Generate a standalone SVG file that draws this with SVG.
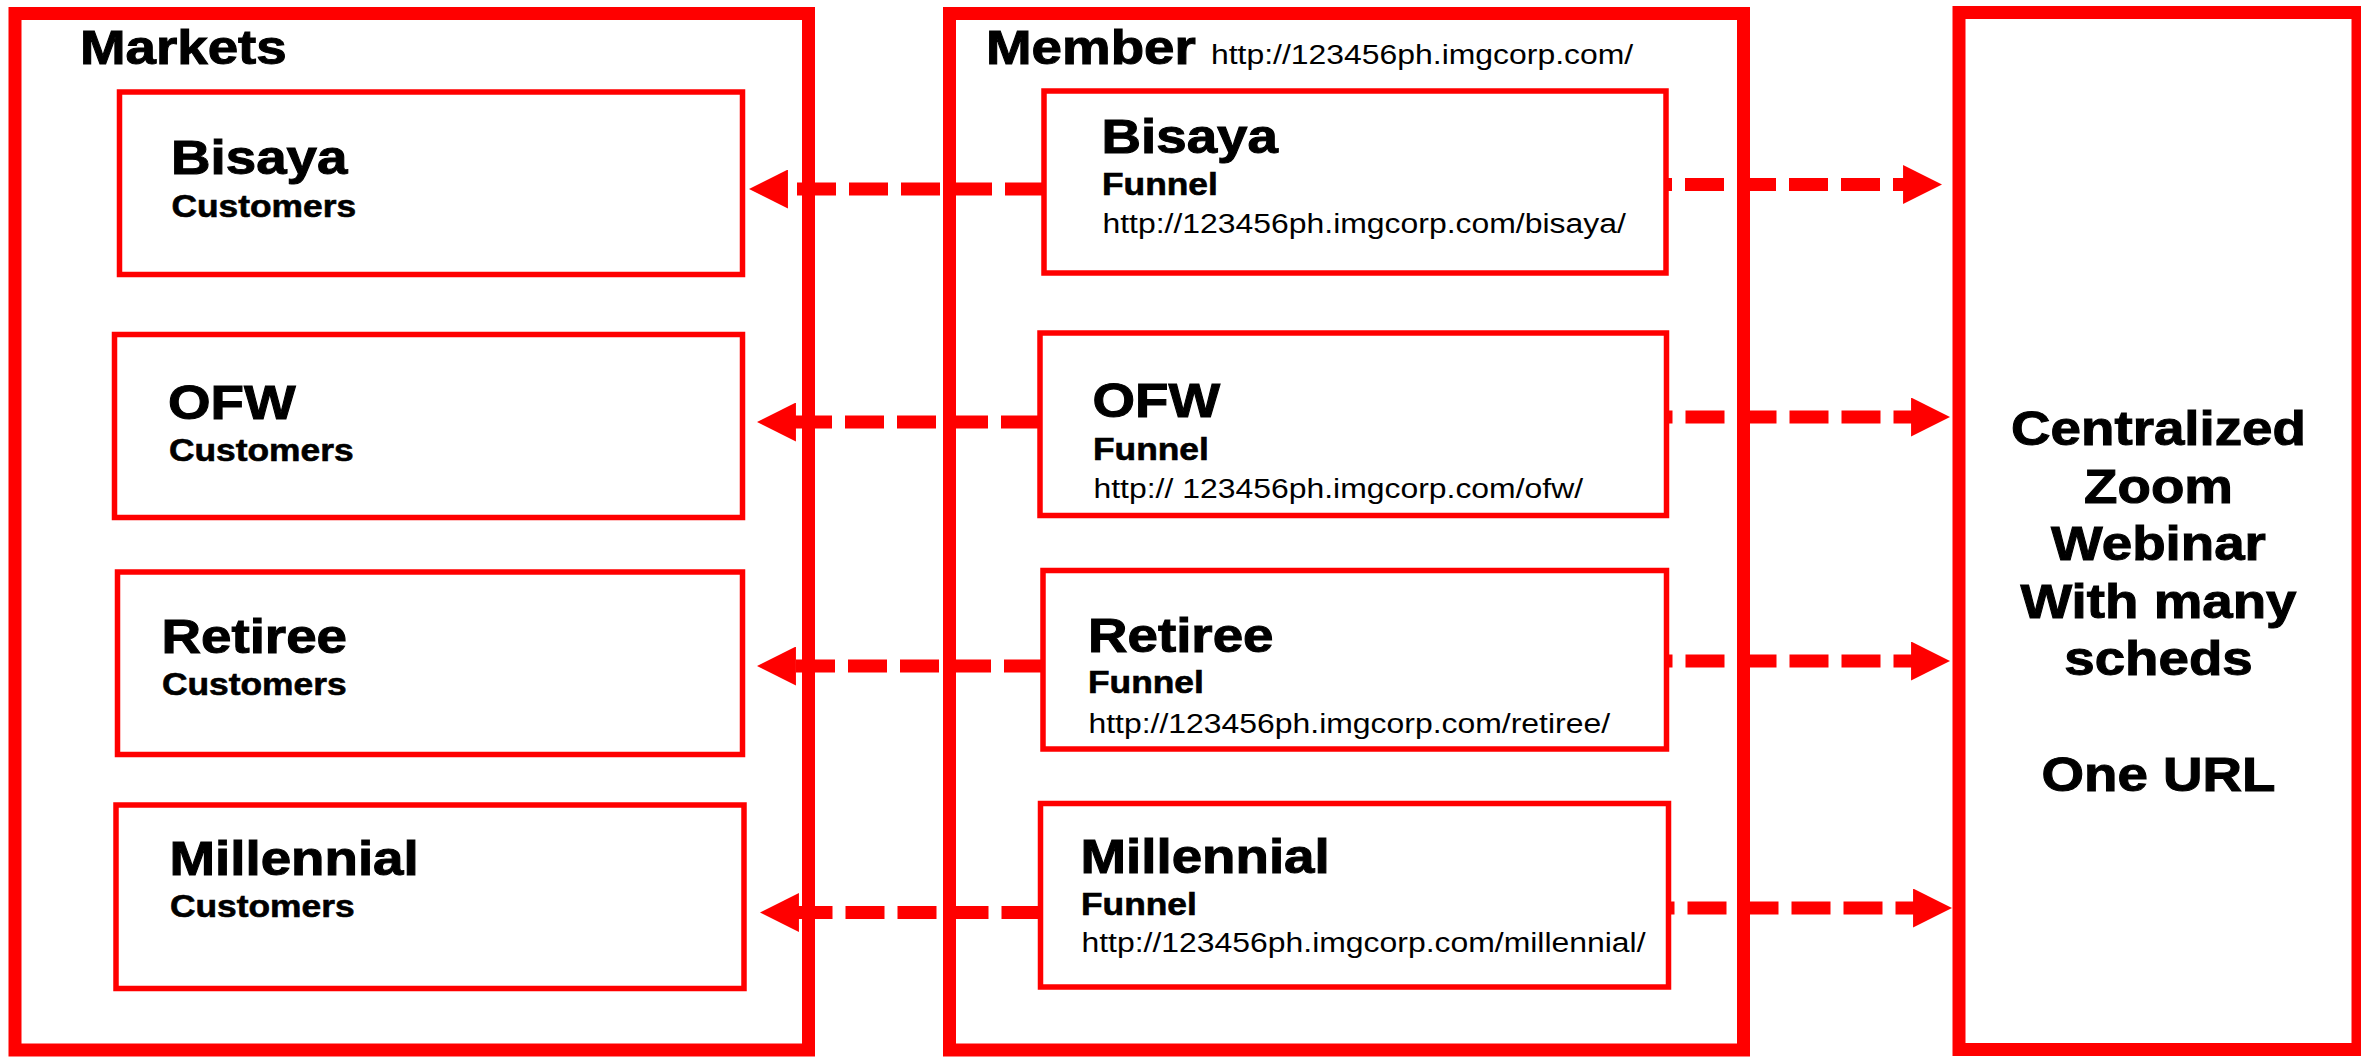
<svg xmlns="http://www.w3.org/2000/svg" width="2361" height="1057" viewBox="0 0 2361 1057">
<style>
  .outer { fill: #ffffff; stroke: #ff0000; stroke-width: 13; }
  .inner { fill: #ffffff; stroke: #ff0000; stroke-width: 5.5; }
  .conn { fill: none; stroke: #ff0000; stroke-width: 13; stroke-dasharray: 39 13; marker-end: url(#head); }
  text { font-family: "Liberation Sans", Arial, sans-serif; fill: #000000; }
  .title { font-size: 48px; font-weight: bold; stroke: #000000; stroke-width: 1; }
  .sub { font-size: 31px; font-weight: bold; stroke: #000000; stroke-width: 0.6; }
  .url { font-size: 28px; font-weight: normal; }
  .big { font-size: 48px; font-weight: bold; text-anchor: middle; stroke: #000000; stroke-width: 1; }
</style>
<defs>
  <marker id="head" viewBox="0 0 3 3" markerWidth="3" markerHeight="3" refX="0.15" refY="1.5" orient="auto" markerUnits="strokeWidth">
    <path d="M0,0 L3,1.5 L0,3 Z" fill="#ff0000"/>
  </marker>
</defs>
<rect width="2361" height="1057" fill="#ffffff"/>

<g id="markets">
  <rect class="outer" x="15" y="13.5" width="793.5" height="1036.5"/>
  <text class="title" transform="translate(80,64) scale(1.14,1)">Markets</text>
</g>
<g id="member">
  <rect class="outer" x="949.5" y="13.5" width="794" height="1036.5"/>
  <text class="title" transform="translate(986,64) scale(1.14,1)">Member</text>
  <text class="url" transform="translate(1211,64) scale(1.14,1)">http://123456ph.imgcorp.com/</text>
</g>
<g id="webinar">
  <rect class="outer" x="1959" y="12.5" width="399" height="1037"/>
  <text class="big" transform="translate(2158.5,445) scale(1.14,1)">Centralized</text>
  <text class="big" transform="translate(2158.5,503) scale(1.14,1)">Zoom</text>
  <text class="big" transform="translate(2158.5,560) scale(1.14,1)">Webinar</text>
  <text class="big" transform="translate(2158.5,618) scale(1.14,1)">With many</text>
  <text class="big" transform="translate(2158.5,675) scale(1.14,1)">scheds</text>
  <text class="big" transform="translate(2158.5,790.5) scale(1.14,1)">One URL</text>
</g>

<g id="market-bisaya">
  <rect class="inner" x="119.5" y="92" width="623" height="182.5"/>
  <text class="title" transform="translate(171,174) scale(1.14,1)">Bisaya</text>
  <text class="sub" transform="translate(171.5,216.5) scale(1.14,1)">Customers</text>
</g>
<g id="market-ofw">
  <rect class="inner" x="114.5" y="334.5" width="628" height="183"/>
  <text class="title" transform="translate(168,419) scale(1.14,1)">OFW</text>
  <text class="sub" transform="translate(169,461) scale(1.14,1)">Customers</text>
</g>
<g id="market-retiree">
  <rect class="inner" x="117.5" y="572" width="625" height="182.5"/>
  <text class="title" transform="translate(161.5,653) scale(1.14,1)">Retiree</text>
  <text class="sub" transform="translate(162,695) scale(1.14,1)">Customers</text>
</g>
<g id="market-millennial">
  <rect class="inner" x="116" y="805" width="628" height="183.5"/>
  <text class="title" transform="translate(169.5,875) scale(1.14,1)">Millennial</text>
  <text class="sub" transform="translate(170,917) scale(1.14,1)">Customers</text>
</g>

<g id="funnel-bisaya">
  <rect class="inner" x="1044" y="91" width="622" height="182"/>
  <text class="title" transform="translate(1101.5,152.5) scale(1.14,1)">Bisaya</text>
  <text class="sub" transform="translate(1102,195) scale(1.14,1)">Funnel</text>
  <text class="url" transform="translate(1102.5,233) scale(1.14,1)">http://123456ph.imgcorp.com/bisaya/</text>
</g>
<g id="funnel-ofw">
  <rect class="inner" x="1040" y="333" width="626.5" height="182.5"/>
  <text class="title" transform="translate(1092.5,416.5) scale(1.14,1)">OFW</text>
  <text class="sub" transform="translate(1093,460) scale(1.14,1)">Funnel</text>
  <text class="url" transform="translate(1093.5,498) scale(1.14,1)">http:// 123456ph.imgcorp.com/ofw/</text>
</g>
<g id="funnel-retiree">
  <rect class="inner" x="1043" y="570.5" width="623.5" height="178.5"/>
  <text class="title" transform="translate(1088,651.5) scale(1.14,1)">Retiree</text>
  <text class="sub" transform="translate(1088,693) scale(1.14,1)">Funnel</text>
  <text class="url" transform="translate(1088.5,733) scale(1.14,1)">http://123456ph.imgcorp.com/retiree/</text>
</g>
<g id="funnel-millennial">
  <rect class="inner" x="1040.5" y="803.5" width="628" height="183.5"/>
  <text class="title" transform="translate(1080.5,873) scale(1.14,1)">Millennial</text>
  <text class="sub" transform="translate(1081,915) scale(1.14,1)">Funnel</text>
  <text class="url" transform="translate(1081.5,952) scale(1.14,1)">http://123456ph.imgcorp.com/millennial/</text>
</g>

<g id="connectors">
  <line class="conn" x1="1044" y1="189" x2="786" y2="189"/>
  <line class="conn" x1="1040" y1="422" x2="794" y2="422"/>
  <line class="conn" x1="1043" y1="666" x2="794" y2="666"/>
  <line class="conn" x1="1040.5" y1="912.5" x2="797" y2="912.5"/>
  <line class="conn" x1="1666" y1="184.5" x2="1905" y2="184.5" stroke-dashoffset="33"/>
  <line class="conn" x1="1666.5" y1="417" x2="1913" y2="417" stroke-dashoffset="33"/>
  <line class="conn" x1="1666.5" y1="661" x2="1913" y2="661" stroke-dashoffset="33"/>
  <line class="conn" x1="1668.5" y1="908" x2="1915" y2="908" stroke-dashoffset="33"/>
</g>
</svg>
